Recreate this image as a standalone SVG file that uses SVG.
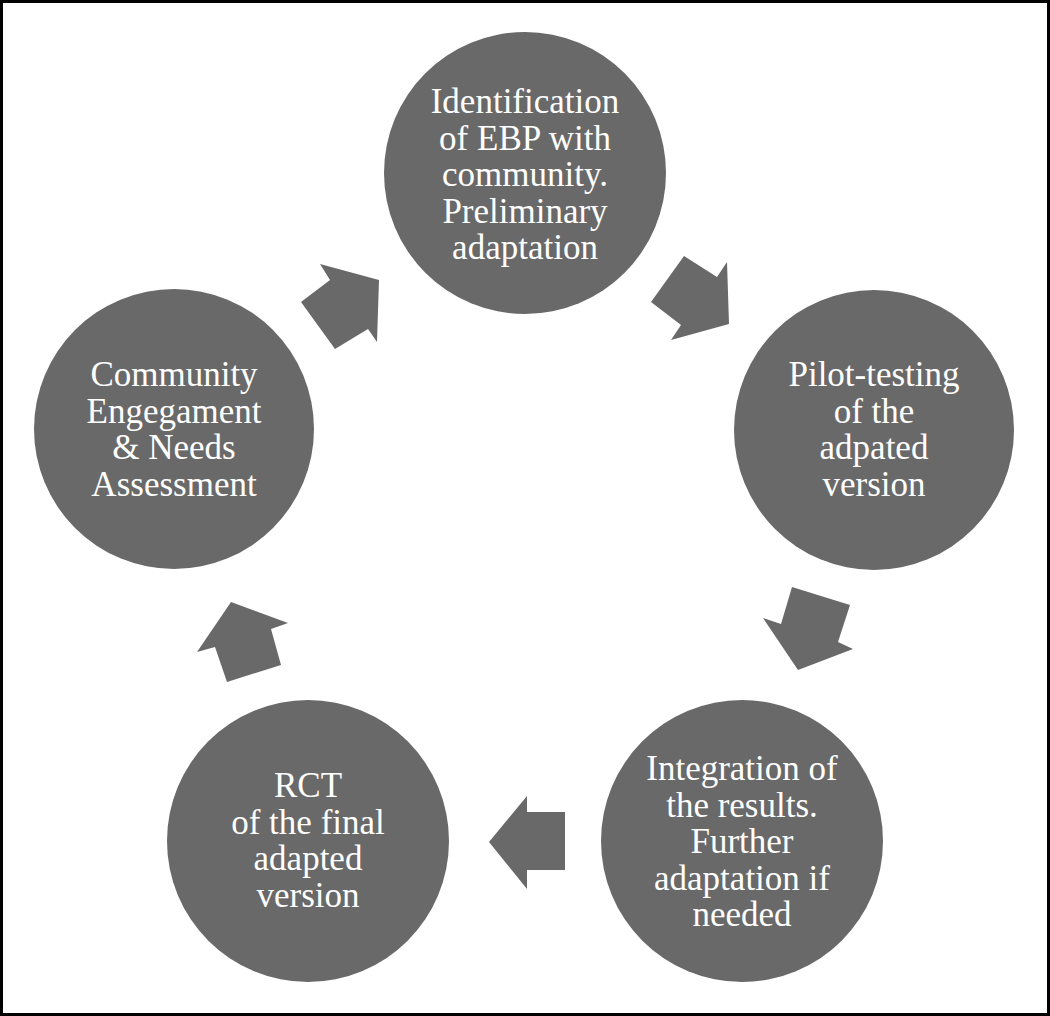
<svg xmlns="http://www.w3.org/2000/svg" width="1050" height="1016" viewBox="0 0 1050 1016">
<style>
.c{fill:#696969}
.a{fill:#696969}
text{font-family:"Liberation Serif","Times New Roman",serif;font-size:35px;fill:#ffffff;text-anchor:middle}
</style>
<rect x="0" y="0" width="1050" height="1016" fill="#ffffff"/>
<rect x="1.5" y="1.5" width="1047" height="1013" fill="none" stroke="#000000" stroke-width="3"/>
<g id="n1">
<circle class="c" cx="525" cy="173" r="141"/>
<text x="525" y="113">Identification</text>
<text x="525" y="149.5">of EBP with</text>
<text x="525" y="186">community.</text>
<text x="525" y="222.5">Preliminary</text>
<text x="525" y="259">adaptation</text>
</g>
<g id="n2">
<circle class="c" cx="874" cy="430" r="140"/>
<text x="874" y="386">Pilot-testing</text>
<text x="874" y="422.5">of the</text>
<text x="874" y="459">adpated</text>
<text x="874" y="495.5">version</text>
</g>
<g id="n3">
<circle class="c" cx="742" cy="841" r="141"/>
<text x="742" y="780">Integration of</text>
<text x="742" y="816.5">the results.</text>
<text x="742" y="853">Further</text>
<text x="742" y="889.5">adaptation if</text>
<text x="742" y="926">needed</text>
</g>
<g id="n4">
<circle class="c" cx="308" cy="841" r="141"/>
<text x="308" y="797">RCT</text>
<text x="308" y="833.5">of the final</text>
<text x="308" y="870">adapted</text>
<text x="308" y="906.5">version</text>
</g>
<g id="n5">
<circle class="c" cx="174" cy="429" r="140"/>
<text x="174" y="386">Community</text>
<text x="174" y="422.5">Engegament</text>
<text x="174" y="459">&amp; Needs</text>
<text x="174" y="495.5">Assessment</text>
</g>
<g id="connectors">
<polygon class="a" points="335,349 301,302 330,280 320,264 379,280 377,342 368,329"/>
<polygon class="a" points="684,256 717,277 727,262 729,324 671,340 681,325 651,302"/>
<polygon class="a" points="792,587 850,605 838,642 853,649 798,670 763,618 781,624"/>
<polygon class="a" points="565,812 527,812 527,796 489,842 527,889 527,870 565,870"/>
<polygon class="a" points="231,602 288,623 271,629 281,665 227,682 215,647 197,652"/>
</g>
</svg>
